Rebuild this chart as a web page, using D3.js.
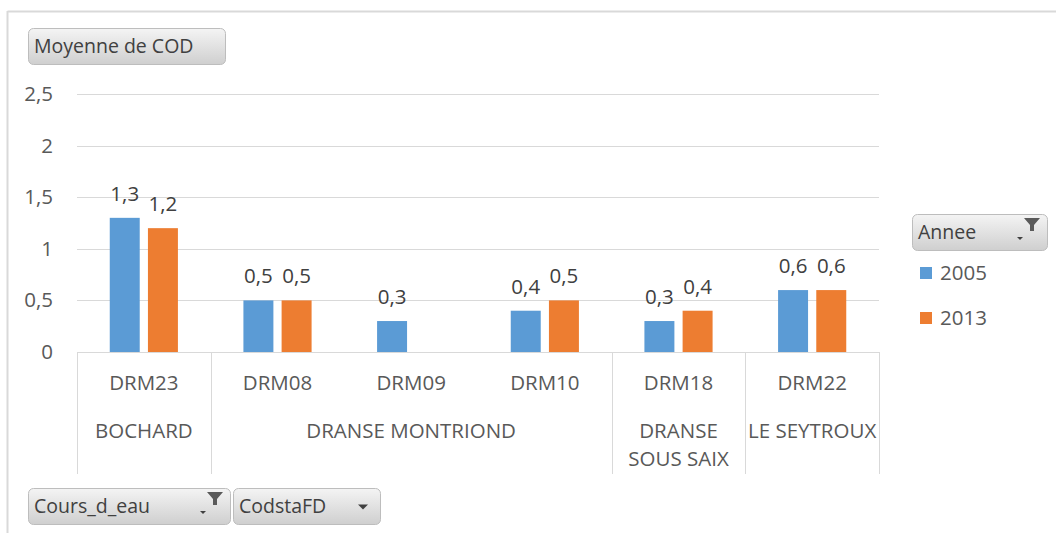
<!DOCTYPE html>
<html>
<head>
<meta charset="utf-8">
<script src="https://cdn.jsdelivr.net/npm/d3@7"></script>
<style>
  html, body { margin: 0; padding: 0; background: #fff; }
  svg { display: block; font-family: "Open Sans", "Noto Sans", sans-serif; }
</style>
</head>
<body>
<svg id="chart" width="1056" height="533"></svg>
<script>
// ---- data ----
const stations = ["DRM23", "DRM08", "DRM09", "DRM10", "DRM18", "DRM22"];
const rivers = ["BOCHARD", "DRANSE MONTRIOND", "DRANSE MONTRIOND", "DRANSE MONTRIOND", "DRANSE SOUS SAIX", "LE SEYTROUX"];
const riverLabels = [["BOCHARD"], ["DRANSE MONTRIOND"], ["DRANSE", "SOUS SAIX"], ["LE SEYTROUX"]];
const years = ["2005", "2013"];
const values2005 = [1.3, 0.5, 0.3, 0.4, 0.3, 0.6];
const values2013 = [1.2, 0.5, null, 0.5, 0.4, 0.6];
const yTicks = [0, 0.5, 1, 1.5, 2, 2.5];
const colors = ["#5B9BD5", "#ED7D31"];

const svg = d3.select("#chart");
const locale = d3.formatLocale({ decimal: ",", thousands: " ", grouping: [3], currency: ["", "€"] });
const fmt = v => locale.format("")(v);

const textColor = "#595959";
const gridColor = "#d9d9d9";
const FS = 20.5;
const FONT = "'Open Sans', 'Noto Sans', sans-serif";

// outer border (top and left)
svg.append("line").attr("x1", 7.5).attr("x2", 1056).attr("y1", 11.5).attr("y2", 11.5)
  .attr("stroke", "#d9d9d9").attr("stroke-width", 2);
svg.append("line").attr("x1", 7.5).attr("x2", 7.5).attr("y1", 11).attr("y2", 533)
  .attr("stroke", "#d9d9d9").attr("stroke-width", 2);

// gradient for buttons
const defs = svg.append("defs");
const grad = defs.append("linearGradient").attr("id", "btn").attr("x1", 0).attr("x2", 0).attr("y1", 0).attr("y2", 1);
grad.append("stop").attr("offset", "0%").attr("stop-color", "#f4f4f4");
grad.append("stop").attr("offset", "100%").attr("stop-color", "#cfcfcf");

function button(x, y, w, h, label, opts = {}) {
  const g = svg.append("g").attr("transform", `translate(${x},${y})`);
  g.append("rect").attr("x", 0.5).attr("y", 0.5).attr("width", w - 1).attr("height", h - 1)
    .attr("rx", 5).attr("fill", "url(#btn)").attr("stroke", "#bdbdbd");
  g.append("text").attr("x", 6).attr("y", h / 2).attr("dy", "0.35em")
    .attr("font-size", 19.5).attr("fill", "#404040").text(label);
  if (opts.filter) {
    const fx = w - 16, fy = 4;
    g.append("path").attr("d", `M${fx - 8},${fy} L${fx + 8},${fy} L${fx + 2},${fy + 7} L${fx + 2},${fy + 13} L${fx - 2},${fy + 13} L${fx - 2},${fy + 7} Z`)
      .attr("fill", "#5a5a5a");
    g.append("path").attr("d", `M${fx - 15},${fy + 19} L${fx - 9},${fy + 19} L${fx - 12},${fy + 22} Z`).attr("fill", "#404040");
  }
  if (opts.arrow) {
    const ax = w - 18, ay = h / 2 - 2;
    g.append("path").attr("d", `M${ax - 5},${ay} L${ax + 5},${ay} L${ax},${ay + 5} Z`).attr("fill", "#404040");
  }
  return g;
}

// ---- scales ----
const x0 = d3.scaleBand().domain(stations).range([77, 879]).paddingInner(0).paddingOuter(0);
const bw = x0.bandwidth();
const x1 = d3.scaleBand().domain(years).range([bw * 0.245, bw * 0.755]).paddingInner(0.215).paddingOuter(0);
const y = d3.scaleLinear().domain([0, 2.5]).range([352, 94]);

// gridlines
svg.append("g").selectAll("line").data(yTicks.filter(t => t > 0)).join("line")
  .attr("x1", 77).attr("x2", 879)
  .attr("y1", d => Math.round(y(d)) + 0.5).attr("y2", d => Math.round(y(d)) + 0.5)
  .attr("stroke", gridColor).attr("stroke-width", 1);

// y axis labels
const yAxis = d3.axisLeft(y).tickValues(yTicks).tickFormat(fmt).tickSize(0).tickPadding(0);
const yg = svg.append("g").attr("transform", "translate(53,0)").call(yAxis);
yg.select(".domain").remove();
yg.selectAll("text").attr("font-size", FS).attr("fill", textColor).attr("font-family", FONT);

// bars
const series = [values2005, values2013];
const barData = [];
stations.forEach((s, i) => {
  years.forEach((yr, j) => {
    const v = series[j][i];
    if (v !== null && v !== undefined) barData.push({ s, yr, v, c: colors[j] });
  });
});
svg.append("g").selectAll("rect").data(barData).join("rect")
  .attr("x", d => x0(d.s) + x1(d.yr))
  .attr("width", x1.bandwidth())
  .attr("y", d => y(d.v))
  .attr("height", d => y(0) - y(d.v))
  .attr("fill", d => d.c);

// data labels
svg.append("g").selectAll("text").data(barData).join("text")
  .attr("x", d => x0(d.s) + x1(d.yr) + x1.bandwidth() / 2)
  .attr("y", d => y(d.v) - 17)
  .attr("text-anchor", "middle")
  .attr("font-size", FS).attr("fill", "#404040")
  .text(d => fmt(d.v));

// x axis baseline
svg.append("line").attr("x1", 77).attr("x2", 879).attr("y1", 352.5).attr("y2", 352.5)
  .attr("stroke", gridColor).attr("stroke-width", 1);

// station labels (level 1)
const xAxis = d3.axisBottom(x0).tickSize(0).tickPadding(0);
const xg = svg.append("g").attr("transform", "translate(0,383)").call(xAxis);
xg.select(".domain").remove();
xg.selectAll("text").attr("font-size", FS).attr("fill", textColor).attr("dy", "0.35em").attr("font-family", FONT);

// river groups (level 2)
const groups = [];
rivers.forEach((r, i) => {
  const last = groups[groups.length - 1];
  if (last && last.name === r) last.end = i;
  else groups.push({ name: r, start: i, end: i });
});
groups.forEach((g, k) => {
  g.x0 = x0(stations[g.start]);
  g.x1 = x0(stations[g.end]) + bw;
  g.lines = riverLabels[k];
});
const seps = [groups[0].x0].concat(groups.map(g => g.x1));
svg.append("g").selectAll("line").data(seps).join("line")
  .attr("x1", d => Math.round(d) + 0.5).attr("x2", d => Math.round(d) + 0.5)
  .attr("y1", 352).attr("y2", 474)
  .attr("stroke", gridColor).attr("stroke-width", 1);

const rg = svg.append("g");
groups.forEach(g => {
  const t = rg.append("text").attr("x", (g.x0 + g.x1) / 2).attr("y", 431)
    .attr("text-anchor", "middle").attr("font-size", FS).attr("fill", textColor);
  g.lines.forEach((ln, i) => {
    t.append("tspan").attr("x", (g.x0 + g.x1) / 2).attr("dy", i === 0 ? "0.35em" : "28px").text(ln);
  });
});

// buttons
button(28, 28, 198, 37, "Moyenne de COD");
button(912, 214, 136, 37, "Annee", { filter: true });
button(28, 488, 203, 37, "Cours_d_eau", { filter: true });
button(233, 488, 148, 37, "CodstaFD", { arrow: true });

// legend
const leg = svg.append("g");
years.forEach((yr, j) => {
  const cy = 273 + j * 45;
  leg.append("rect").attr("x", 920).attr("y", cy - 6).attr("width", 12).attr("height", 12).attr("fill", colors[j]);
  leg.append("text").attr("x", 940).attr("y", cy).attr("dy", "0.35em")
    .attr("font-size", FS).attr("fill", textColor).text(yr);
});
</script>
</body>
</html>
